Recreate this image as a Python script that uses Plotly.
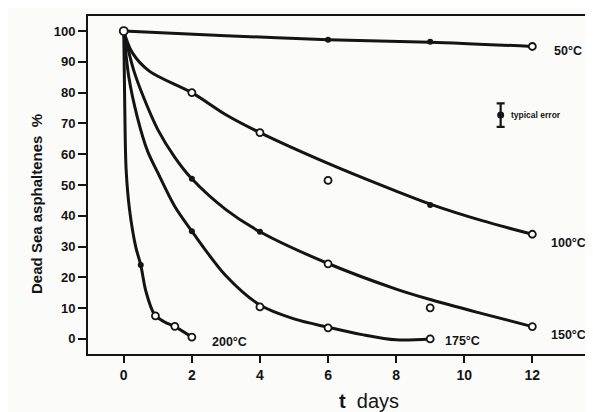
import plotly.graph_objects as go

# ---- data ----
temps = ["50°C", "100°C", "150°C", "175°C", "200°C"]

# fitted (smooth) curves, readings along the drawn line
curve_t_50 = [0, 3, 6, 9, 12]
curve_y_50 = [100, 98.5, 97.2, 96.4, 95]
curve_t_100 = [0, 0.25, 0.75, 2, 3, 4, 6, 8, 9, 10.5, 12]
curve_y_100 = [100, 93, 87, 80, 72.8, 67, 57, 48, 43.8, 38.5, 34]
curve_t_150 = [0, 0.3, 0.6, 1, 1.5, 2, 3, 4, 6, 8, 9, 10.5, 12]
curve_y_150 = [100, 87, 78, 68, 59, 52, 42, 34.8, 24.5, 16.2, 12.8, 8.3, 4]
curve_t_175 = [0, 0.15, 0.4, 0.7, 1, 1.5, 2, 3, 4, 5, 6, 7, 8, 9]
curve_y_175 = [100, 85, 72, 61, 54, 43, 35, 20.5, 11, 6.5, 3.8, 1.4, -0.3, 0]
curve_t_200 = [0, 0.03, 0.07, 0.17, 0.35, 0.5, 0.65, 0.9, 1.2, 1.5, 2]
curve_y_200 = [100, 75, 55, 42, 30, 24, 15.5, 8, 5.5, 4, 0.6]

# measured points (open circles)
open_t_50 = [12]
open_y_50 = [95]
open_t_100 = [2, 4, 6, 12]
open_y_100 = [80, 67, 51.5, 34]
open_t_150 = [6, 9, 12]
open_y_150 = [24.4, 10.1, 4]
open_t_175 = [4, 6, 9]
open_y_175 = [10.4, 3.6, 0]
open_t_200 = [0.93, 1.5, 2]
open_y_200 = [7.5, 4.1, 0.6]

# measured points (filled dots)
dot_t_50 = [6, 9]
dot_y_50 = [97.2, 96.5]
dot_t_100 = [9]
dot_y_100 = [43.5]
dot_t_150 = [2, 4]
dot_y_150 = [52, 34.8]
dot_t_175 = [2]
dot_y_175 = [35]
dot_t_200 = [0.5]
dot_y_200 = [24]

start_t = [0]
start_y = [100]

# label positions
label_t = [12.58, 12.5, 12.5, 9.37, 2.54]
label_y = [93.5, 31, 1.2, -0.6, -1.0]

# typical error
err_t = [11.07]
err_y = [72.7]
err_size = [3.8]

x_ticks = [0, 2, 4, 6, 8, 10, 12]
y_ticks = [0, 10, 20, 30, 40, 50, 60, 70, 80, 90, 100]

curves = [
    (curve_t_50, curve_y_50), (curve_t_100, curve_y_100), (curve_t_150, curve_y_150),
    (curve_t_175, curve_y_175), (curve_t_200, curve_y_200)]
opens = [
    (open_t_50, open_y_50), (open_t_100, open_y_100), (open_t_150, open_y_150),
    (open_t_175, open_y_175), (open_t_200, open_y_200)]
dots = [
    (dot_t_50, dot_y_50), (dot_t_100, dot_y_100), (dot_t_150, dot_y_150),
    (dot_t_175, dot_y_175), (dot_t_200, dot_y_200)]

INK = "#141414"
fig = go.Figure()

for (ct, cy) in curves:
    fig.add_trace(go.Scatter(x=ct, y=cy, mode="lines",
                             line=dict(color=INK, width=3, shape="spline", smoothing=0.9),
                             showlegend=False, hoverinfo="skip"))
for (dt, dy) in dots:
    fig.add_trace(go.Scatter(x=dt, y=dy, mode="markers",
                             marker=dict(size=6, color=INK, symbol="circle"),
                             showlegend=False))
for (ot, oy) in opens:
    fig.add_trace(go.Scatter(x=ot, y=oy, mode="markers",
                             marker=dict(size=7, color="white", symbol="circle",
                                         line=dict(color=INK, width=1.8)),
                             showlegend=False))
fig.add_trace(go.Scatter(x=start_t, y=start_y, mode="markers",
                         marker=dict(size=8, color="white", symbol="circle",
                                     line=dict(color=INK, width=1.8)),
                         showlegend=False))

# typical error bar
fig.add_trace(go.Scatter(x=err_t, y=err_y, mode="markers",
                         marker=dict(size=7, color=INK),
                         error_y=dict(type="data", array=err_size, color=INK,
                                      thickness=2.2, width=4),
                         showlegend=False))
fig.add_annotation(x=err_t[0] + 0.25, y=err_y[0], xref="x", yref="y",
                   text="typical error", showarrow=False, xanchor="left",
                   font=dict(family="Liberation Sans", size=8.5, color=INK, weight="bold"))

for name, lt, ly in zip(temps, label_t, label_y):
    fig.add_annotation(x=lt, y=ly, xref="x", yref="y", text=name, showarrow=False,
                       xanchor="left", yanchor="middle",
                       font=dict(family="Liberation Sans", size=12.5, color=INK, weight="bold"))

# axis titles
fig.add_annotation(x=-0.121, y=0.444, xref="paper", yref="paper",
                   text="Dead Sea asphaltenes  %", textangle=-90, showarrow=False,
                   font=dict(family="Liberation Sans", size=15, color=INK, weight="bold"))
fig.add_annotation(x=7.2, y=-(393 - 346) / 338, xref="x", yref="paper",
                   text="<b>t</b>  days", showarrow=False, yanchor="middle",
                   font=dict(family="Liberation Sans", size=20, color=INK))

fig.update_xaxes(range=[-1.05, 13.87], tickvals=x_ticks, ticks="outside", ticklen=7,
                 tickwidth=2, tickcolor=INK, showline=True, linewidth=2, linecolor=INK,
                 mirror=True, showgrid=False, zeroline=False,
                 tickfont=dict(family="Liberation Sans", size=14, color=INK, weight="bold"))
fig.update_yaxes(range=[-4.9, 104.9], tickvals=y_ticks, ticks="outside", ticklen=8,
                 tickwidth=2, tickcolor=INK, showline=True, linewidth=2, linecolor=INK,
                 mirror=True, showgrid=False, zeroline=False,
                 tickfont=dict(family="Liberation Sans", size=13, color=INK, weight="bold"))

fig.update_layout(width=593, height=412, margin=dict(l=80, r=3, t=8, b=66),
                  paper_bgcolor="#fbfbf9", plot_bgcolor="#fbfbf9", showlegend=False)

fig.write_html("out.html")
